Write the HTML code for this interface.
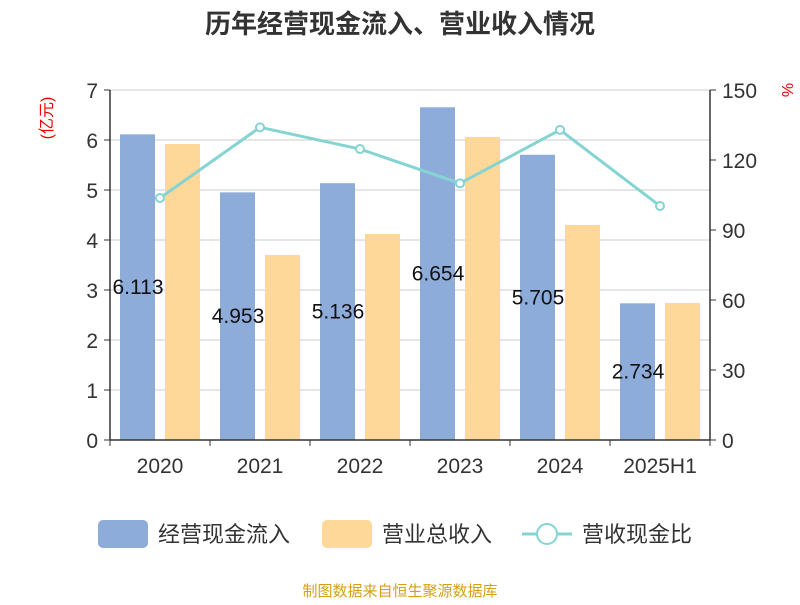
<!DOCTYPE html>
<html><head><meta charset="utf-8"><style>
body{margin:0;background:#fff;}
svg text{font-family:"Liberation Sans","Noto Sans CJK SC",sans-serif;}
</style></head><body>
<svg id="chart" width="800" height="600">
<text x="400" y="33" text-anchor="middle" font-size="26" font-weight="bold" fill="#333">历年经营现金流入、营业收入情况</text>
<text transform="translate(52,118) rotate(-90)" text-anchor="middle" font-size="16" fill="#e00">(亿元)</text>
<text transform="translate(782,90) rotate(90)" text-anchor="middle" font-size="16" fill="#e00">%</text>
<g id="grid"></g><g id="bars"></g><g id="axes"></g><g id="line"></g><g id="labels"></g>
<g>
<rect x="98" y="520" width="50" height="28" rx="5" fill="#8eacda"/>
<text x="158" y="542" font-size="22" fill="#333">经营现金流入</text>
<rect x="322" y="520" width="50" height="28" rx="5" fill="#fed898"/>
<text x="382" y="542" font-size="22" fill="#333">营业总收入</text>
<line x1="522" y1="534" x2="572" y2="534" stroke="#85d4d3" stroke-width="3"/>
<circle cx="547" cy="534" r="10" fill="#fff" stroke="#85d4d3" stroke-width="2"/>
<text x="582" y="542" font-size="22" fill="#333">营收现金比</text>
</g>
<text x="400" y="596" text-anchor="middle" font-size="15" fill="#d4a017">制图数据来自恒生聚源数据库</text>
</svg>
<script>
const categories=["2020","2021","2022","2023","2024","2025H1"];
const inflow=[6.113,4.953,5.136,6.654,5.705,2.734];
const revenue=[5.92,3.7,4.12,6.06,4.3,2.74];
const ratio=[103.7,134,124.7,110,132.9,100.3];
const leftTicks=[0,1,2,3,4,5,6,7];
const rightTicks=[0,30,60,90,120,150];
const NS="http://www.w3.org/2000/svg";
const X0=110,X1=710,Y0=440,Y1=90,step=(X1-X0)/categories.length;
const yL=v=>Y0-(v/7)*(Y0-Y1);
const yR=v=>Y0-(v/150)*(Y0-Y1);
const xC=i=>X0+step*i+step/2;
function mk(tag,attrs,parent,txt){const e=document.createElementNS(NS,tag);for(const k in attrs)e.setAttribute(k,attrs[k]);if(txt!==undefined)e.textContent=txt;document.getElementById(parent).appendChild(e);return e;}
leftTicks.forEach(t=>{
 const g=mk("line",{x1:X0,x2:X1,y1:yL(t),y2:yL(t),stroke:"#ccc","stroke-width":1},"grid");
 
 
 const tl=mk("text",{x:X0-12,y:yL(t)+8,"text-anchor":"end","font-size":21,fill:"#333"},"axes",t);
 
 
 mk("line",{x1:X0-6,x2:X0,y1:yL(t),y2:yL(t),stroke:"#333"},"axes");
});
rightTicks.forEach(t=>{
 const tl=mk("text",{x:X1+12,y:yR(t)+8,"font-size":21,fill:"#333"},"axes",t);
 
 
 mk("line",{x1:X1,x2:X1+6,y1:yR(t),y2:yR(t),stroke:"#333"},"axes");
});
let a=mk("line",{x1:X0,x2:X0,y1:Y1,y2:Y0,stroke:"#333","stroke-width":1.5},"axes");

a=mk("line",{x1:X1,x2:X1,y1:Y1,y2:Y0,stroke:"#333","stroke-width":1.5},"axes");

a=mk("line",{x1:X0,x2:X1,y1:Y0,y2:Y0,stroke:"#333","stroke-width":1.5},"axes");

for(let i=0;i<=categories.length;i++)mk("line",{x1:X0+step*i,x2:X0+step*i,y1:Y0,y2:Y0+6,stroke:"#333"},"axes");
categories.forEach((c,i)=>{
 const t=mk("text",{x:xC(i),y:Y0+33,"text-anchor":"middle","font-size":21,fill:"#333"},"axes",c);
 
 
 const b1=mk("rect",{x:xC(i)-40,y:yL(inflow[i]),width:35,height:Y0-yL(inflow[i]),fill:"#8eacda"},"bars");
 
 
 const b2=mk("rect",{x:xC(i)+5,y:yL(revenue[i]),width:35,height:Y0-yL(revenue[i]),fill:"#fed898"},"bars");
 
 
 const l=mk("text",{x:xC(i)-22,y:(yL(inflow[i])+Y0)/2+7,"text-anchor":"middle","font-size":21,fill:"#111"},"labels",inflow[i].toFixed(3));
 
 
});
const pts=ratio.map((v,i)=>xC(i)+","+yR(v)).join(" ");
const pl=mk("polyline",{points:pts,fill:"none",stroke:"#85d4d3","stroke-width":3},"line");


ratio.forEach((v,i)=>{
 const p=mk("circle",{cx:xC(i),cy:yR(v),r:4,fill:"#fff",stroke:"#85d4d3","stroke-width":2},"line");
 
 
});
</script>
</body></html>
